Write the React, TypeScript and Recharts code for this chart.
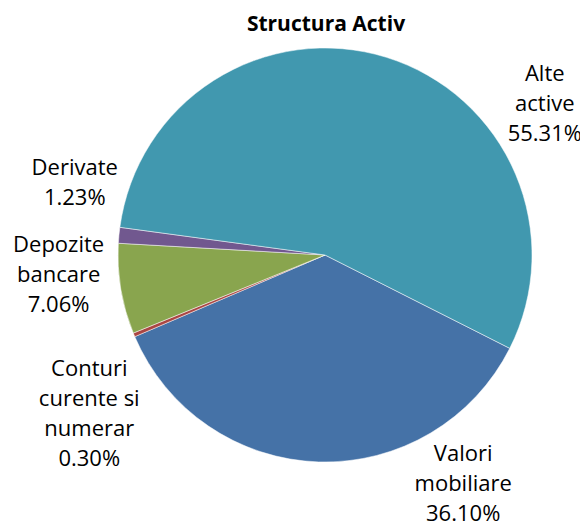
import { PieChart, Pie, Cell } from "recharts";

const names = [
  "Valori mobiliare",
  "Conturi curente si numerar",
  "Depozite bancare",
  "Derivate",
  "Alte active",
];
const values = [36.1, 0.3, 7.06, 1.23, 55.31];
const labelLines = [
  ["Valori", "mobiliare", "36.10%"],
  ["Conturi", "curente si", "numerar", "0.30%"],
  ["Depozite", "bancare", "7.06%"],
  ["Derivate", "1.23%"],
  ["Alte", "active", "55.31%"],
];

const COLORS = ["#4572A7", "#AA4643", "#89A54E", "#71588F", "#4198AF"];

// where excel put each label block (angle in degrees, distance from centre)
const LABEL_POS = [
  { angle: -58.7, dist: 266 },
  { angle: -146.4, dist: 283 },
  { angle: -176.1, dist: 267 },
  { angle: 163.5, dist: 261 },
  { angle: 34.9, dist: 268 },
];

const FONT = "'Open Sans', sans-serif";
const LINE_H = 30;

const data = names.map((name, i) => ({ name, value: values[i] }));

const renderLabel = (props: any) => {
  const { cx, cy, index } = props;
  const pos = LABEL_POS[index];
  const rad = (pos.angle * Math.PI) / 180;
  const x = cx + pos.dist * Math.cos(rad);
  const y = cy - pos.dist * Math.sin(rad);
  const lines = labelLines[index];
  const top = y - ((lines.length - 1) * LINE_H) / 2;
  return (
    <text
      x={x}
      y={top}
      textAnchor="middle"
      dominantBaseline="central"
      fill="#000"
      fontSize={22}
      fontFamily={FONT}
    >
      {lines.map((l, i) => (
        <tspan key={i} x={x} y={top + i * LINE_H}>
          {l}
        </tspan>
      ))}
    </text>
  );
};

export default function App() {
  return (
    <div>
      <style>{`svg, .recharts-wrapper { overflow: visible !important; }`}</style>
      <PieChart
        width={580}
        height={517}
        margin={{ top: 0, right: 0, bottom: 0, left: 0 }}
      >
        <text
          x={318}
          y={15}
          textAnchor="middle"
          dominantBaseline="central"
          fontSize={21}
          fontWeight="bold"
          fontFamily={FONT}
          fill="#000"
        >
          Structura Activ
        </text>
        <Pie
          data={data}
          dataKey="value"
          nameKey="name"
          cx={317}
          cy={247}
          outerRadius={207}
          startAngle={-26.8}
          endAngle={-386.8}
          stroke="#ffffff"
          strokeWidth={0.5}
          label={renderLabel}
          labelLine={false}
          isAnimationActive={false}
        >
          {data.map((entry, index) => (
            <Cell key={`cell-${index}`} fill={COLORS[index]} />
          ))}
        </Pie>
      </PieChart>
    </div>
  );
}
